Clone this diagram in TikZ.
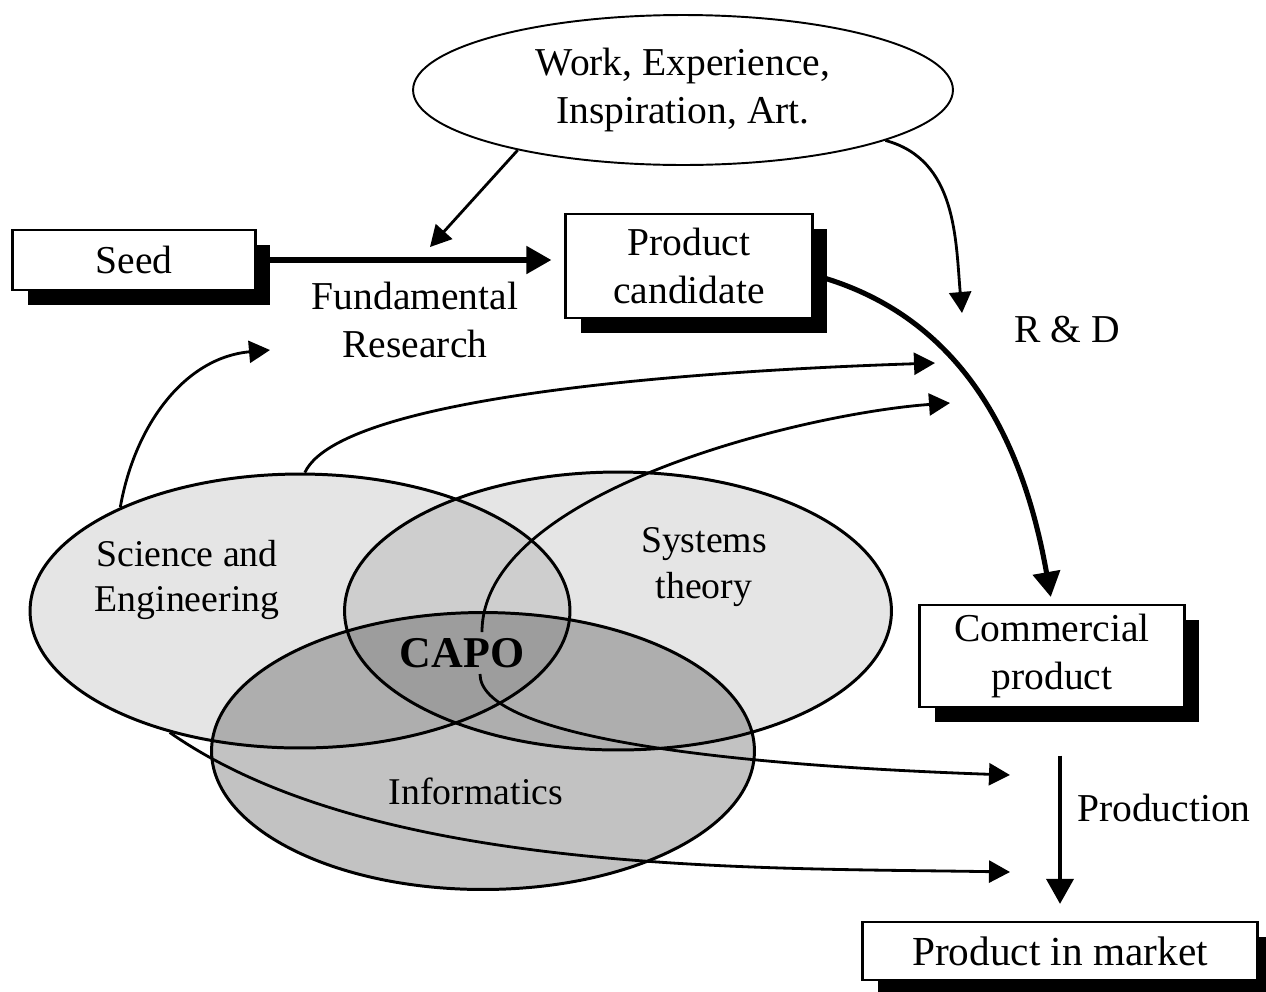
\documentclass[tikz,border=0pt]{standalone}
\usepackage{fontspec}
\setmainfont{Liberation Serif}
\usetikzlibrary{arrows.meta, positioning, shapes.geometric, shadows, calc}

\begin{document}
\begin{tikzpicture}[
  x=0.02cm, y=-0.02cm,
  font=\fontsize{22.5}{27}\selectfont,
  every node/.style={align=center},
  box/.style={rectangle, draw, line width=1.3pt, fill=white, inner sep=0pt,
              drop shadow={shadow xshift=0.3cm, shadow yshift=-0.3cm,
                           fill=black, opacity=1}},
  idea/.style={ellipse, draw, line width=1.1pt, fill=white, inner sep=0pt},
  venn/.style={ellipse, draw, line width=1.7pt, fill=black, inner sep=0pt},
  vennlbl/.style={font=\fontsize{21.5}{26}\selectfont},
  arrow/.style={-{Triangle[length=4.2mm, width=4.4mm]}, line width=1.6pt},
  bigarrow/.style={-{Triangle[length=5mm, width=5.4mm]}, line width=2.9pt},
]
\useasboundingbox (0,0) rectangle (1266,991);

% ── Overlapping fields ─────────────────────────────────────────────
\node[venn, fill opacity=0.10, minimum width=10.8cm,  minimum height=5.48cm] (sci) at (300,611) {};
\node[venn, fill opacity=0.10, minimum width=10.94cm, minimum height=5.56cm] (sys) at (618,611) {};
\node[venn, fill opacity=0.24, minimum width=10.86cm, minimum height=5.54cm] (inf) at (483,751) {};

\node[vennlbl] (scilbl) at (187,580) {Science and\\Engineering};
\node[vennlbl] (syslbl) at (704,567) {Systems\\theory};
\node[vennlbl] (inflbl) at (476,791) {Informatics};
\node[font=\bfseries\fontsize{25}{30}\selectfont] (capo) at (462,653) {CAPO};

% ── Stages ─────────────────────────────────────────────────────────
\node[idea, minimum width=10.8cm, minimum height=3cm] (muse) at (683,90)
  {Work, Experience,\\Inspiration, Art.};
\node[box, minimum width=4.86cm, minimum height=1.2cm]  (seed) at (134,260) {Seed};
\node[box, minimum width=4.94cm, minimum height=2.08cm] (cand) at (689,266) {Product\\candidate};
\node[box, minimum width=5.3cm,  minimum height=2.04cm] (comm) at (1052,656) {Commercial\\product};
\node[box, minimum width=7.9cm,  minimum height=1.16cm,
      font=\fontsize{23.5}{28}\selectfont] (mkt) at (1060,951) {Product in market};

\node (fundlbl) at (415,320) {Fundamental\\Research};
\node (rdlbl) at (1067,330) {R \& D};
\node[anchor=west] (prodlbl) at (1071,808) {Production};

% free ends of the inflow arrows
\coordinate (fundIn)   at (430,247);
\coordinate (fundSide) at (270,350);
\coordinate (rdTop)    at (962,313);
\coordinate (rdIn1)    at (935,363);
\coordinate (rdIn2)    at (950,403);
\coordinate (prodIn1)  at (1010,775);
\coordinate (prodIn2)  at (1010,872);

% ── Main chain ─────────────────────────────────────────────────────
\draw[bigarrow, shorten >=0.26cm] (seed.east) -- (seed.east -| cand.west);
\draw[bigarrow, shorten >=4pt] ([yshift=-0.18cm]cand.east) to[out=-15, in=100] (comm.north);
\draw[bigarrow, line width=2.2pt, shorten <=0.95cm, shorten >=0.34cm]
  (comm.south -| mkt.north) -- (mkt.north);

% ── Inflows ────────────────────────────────────────────────────────
\draw[arrow] (muse.200) -- (fundIn);
\draw[arrow] (muse.346) to[out=-15, in=95] (rdTop);
\draw[arrow] (sci.150) to[out=80, in=185] (fundSide);
\draw[arrow] (sci.88) to[out=65, in=182, out distance=2cm, in distance=2cm] (rdIn1);
\draw[arrow] ([xshift=0.4cm]capo.north)
  to[out=90, in=184, out distance=2.84cm, in distance=2.84cm] (rdIn2);
\draw[arrow] ([xshift=0.36cm]capo.south)
  to[out=-90, in=178, out distance=1.2cm, in distance=6.2cm] (prodIn1);
\draw[arrow] (sci.223) to[out=-35, in=179, out distance=5cm, in distance=5cm] (prodIn2);

\end{tikzpicture}
\end{document}
